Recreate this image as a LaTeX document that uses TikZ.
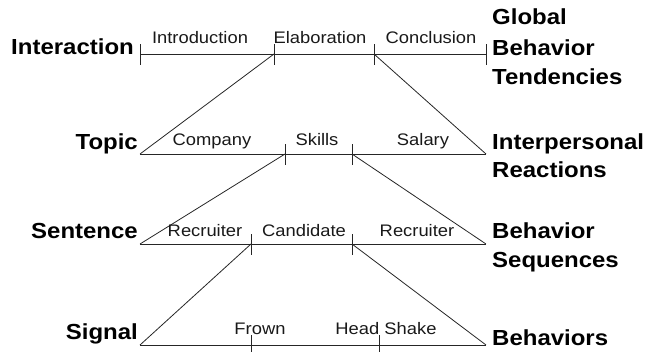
\documentclass[tikz,border=0pt]{standalone}
\usepackage{fontspec}
\setmainfont{Liberation Sans}[FakeStretch=1.1]
\begin{document}
\begin{tikzpicture}[x=1pt,y=-1pt,
  lvl/.style={line width=0.8pt,draw=black!85},
  tickmark/.style={line width=0.8pt,draw=black!85},
  big/.style={font=\fontsize{21.8}{25}\selectfont\bfseries,inner sep=0pt,text=black},
  small/.style={font=\fontsize{16.7}{19}\selectfont,inner sep=0pt,text=black!90,anchor=base}]
\useasboundingbox (0,0) rectangle (655,351);
% row coordinates
\coordinate (a0) at (140,54); \coordinate (a1) at (274,54); \coordinate (a2) at (374,54); \coordinate (a3) at (486,54);
\coordinate (b0) at (140,154); \coordinate (b1) at (285,154); \coordinate (b2) at (352,154); \coordinate (b3) at (486,154);
\coordinate (c0) at (140,244); \coordinate (c1) at (251,244); \coordinate (c2) at (352,244); \coordinate (c3) at (486,244);
\coordinate (d0) at (140,345); \coordinate (d1) at (251,345); \coordinate (d2) at (379,345); \coordinate (d3) at (486,345);
% horizontal lines
\draw[lvl] (a0) -- (a3);
\draw[lvl] (b0) -- (b3);
\draw[lvl] (c0) -- (c3);
\draw[lvl] (d0) -- (d3);
% ticks
\foreach \p in {a0,a1,a2,a3,b1,b2,c1,c2,d1,d2}
  \draw[tickmark] ([yshift=-10.5pt]\p) -- ([yshift=10.5pt]\p);
% diagonals
\draw[lvl] (a1) -- (b0);
\draw[lvl] (a2) -- (b3);
\draw[lvl] (b1) -- (c0);
\draw[lvl] (b2) -- (c3);
\draw[lvl] (c1) -- (d0);
\draw[lvl] (c2) -- (d3);
% segment labels
\node[small] (intro) at (200,43) {Introduction};
\node[small] (elab) at (320,43) {Elaboration};
\node[small] (concl) at (431,43) {Conclusion};
\node[small] (comp) at (212,145) {Company};
\node[small] (skills) at (317,145) {Skills};
\node[small] (salary) at (423,145) {Salary};
\node[small] (rec1) at (205,236) {Recruiter};
\node[small] (cand) at (304,236) {Candidate};
\node[small] (rec2) at (417,236) {Recruiter};
\node[small] (frown) at (260,334) {Frown};
\node[small] (hshake) at (386,334) {Head Shake};
% left level labels
\node[big,anchor=base east] (linter) at (134,54) {Interaction};
\node[big,anchor=base east] (ltopic) at (138,149) {Topic};
\node[big,anchor=base east] (lsent) at (138,238) {Sentence};
\node[big,anchor=base east] (lsig) at (138,339) {Signal};
% right level labels
\node[big,anchor=base west] (rg1) at (492,24) {Global};
\node[big,anchor=base west] (rg2) at (492,55) {Behavior};
\node[big,anchor=base west] (rg3) at (492,84) {Tendencies};
\node[big,anchor=base west] (ri1) at (492,149) {Interpersonal};
\node[big,anchor=base west] (ri2) at (492,177) {Reactions};
\node[big,anchor=base west] (rs1) at (492,238) {Behavior};
\node[big,anchor=base west] (rs2) at (492,267) {Sequences};
\node[big,anchor=base west] (rb1) at (492,345) {Behaviors};
\end{tikzpicture}
\end{document}
